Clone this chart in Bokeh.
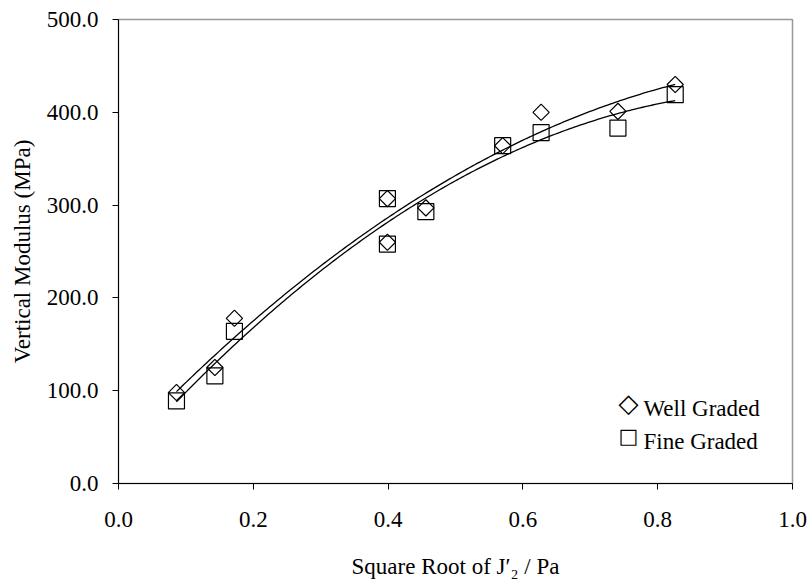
import numpy as np
from bokeh.plotting import figure
from bokeh.models import Range1d, Label, FixedTicker, NumeralTickFormatter
from bokeh.embed import file_html
from bokeh.resources import INLINE

# ---- data ----
sqrt_j2 = [0.086, 0.143, 0.172, 0.399, 0.399, 0.456, 0.570, 0.627, 0.741, 0.826]
well_graded = [98, 125, 178, 307, 260, 297, 364, 400, 401, 430]
fine_graded = [89, 116, 164, 307, 258, 293, 364, 378, 383, 419]
series_names = ["Well Graded", "Fine Graded"]
x_ticks = [0.0, 0.2, 0.4, 0.6, 0.8, 1.0]
y_ticks = [0, 100, 200, 300, 400, 500]

FONT = "Liberation Serif"
FS = "23px"

p = figure(width=812, height=581,
           x_range=Range1d(0, 1.0), y_range=Range1d(0, 500),
           output_backend="svg", toolbar_location=None,
           min_border_left=118, min_border_right=20,
           min_border_top=19, min_border_bottom=98)

p.xgrid.visible = False
p.ygrid.visible = False
p.background_fill_color = "white"
p.border_fill_color = "white"
p.outline_line_color = "#999999"
p.outline_line_width = 1.5

for ax in (p.xaxis[0], p.yaxis[0]):
    ax.formatter = NumeralTickFormatter(format="0.0")
    ax.axis_line_color = "black"
    ax.axis_line_width = 1
    ax.major_tick_line_color = "black"
    ax.major_tick_in = 0
    ax.major_tick_out = 6
    ax.minor_tick_line_color = None
    ax.major_label_text_font = FONT
    ax.major_label_text_font_size = FS
    ax.major_label_text_color = "black"
    ax.axis_label_text_font = FONT
    ax.axis_label_text_font_size = FS
    ax.axis_label_text_font_style = "normal"
    ax.axis_label_text_color = "black"

p.xaxis[0].ticker = FixedTicker(ticks=x_ticks)
p.yaxis[0].ticker = FixedTicker(ticks=y_ticks)
p.xaxis[0].axis_label = "Square Root of J\u2032\u2082 / Pa"
p.yaxis[0].axis_label = "Vertical Modulus (MPa)"
p.xaxis[0].major_label_standoff = 22
p.xaxis[0].axis_label_standoff = 24
p.yaxis[0].major_label_standoff = 14
p.yaxis[0].axis_label_standoff = 9

# quadratic trendlines fitted to each series
xs = np.linspace(min(sqrt_j2), max(sqrt_j2), 200)
for ys in (well_graded, fine_graded):
    c = np.polyfit(sqrt_j2, ys, 2)
    p.line(xs, np.polyval(c, xs), line_color="black", line_width=1.3)

# markers
p.scatter(sqrt_j2, well_graded, marker="square", angle=np.pi / 4, size=11.5,
          fill_color=None, line_color="black", line_width=1.2)
p.scatter(sqrt_j2, fine_graded, marker="square", size=16,
          fill_color=None, line_color="black", line_width=1.2)

# legend (text-based, lower right)
for sym, fsz, name, ys_sym, yb in (("\u25C7", "26px", series_names[0], 81, 75),
                                   ("\u25A1", "21px", series_names[1], 48, 42)):
    p.add_layout(Label(x=510, y=ys_sym, x_units="screen", y_units="screen", text=sym,
                       text_font="DejaVu Sans", text_font_size=fsz, text_align="center",
                       text_baseline="middle", text_color="black"))
    p.add_layout(Label(x=525, y=yb, x_units="screen", y_units="screen", text=name,
                       text_font=FONT, text_font_size=FS, text_align="left",
                       text_baseline="alphabetic", text_color="black"))

open("out.html", "w").write(file_html(p, INLINE))
